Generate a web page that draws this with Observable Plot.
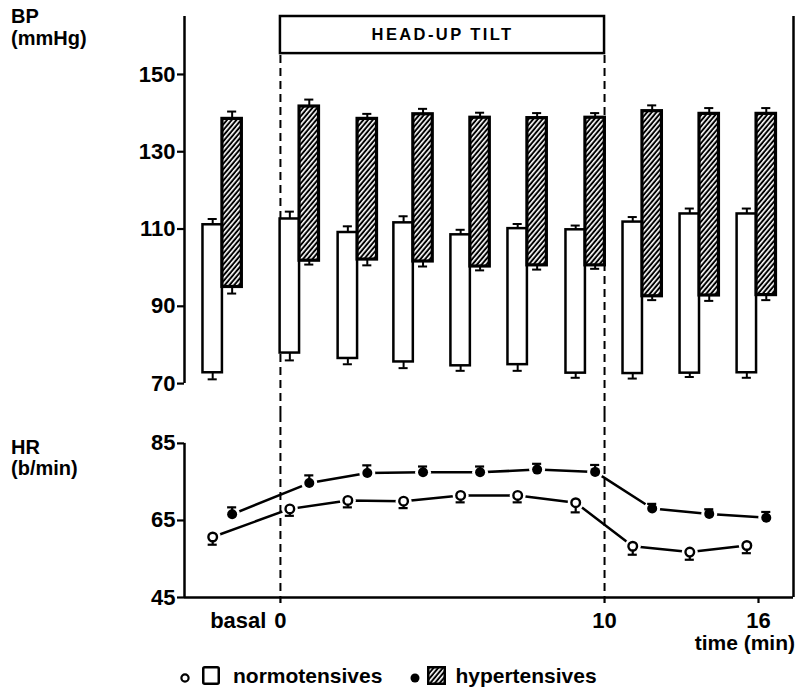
<!DOCTYPE html>
<html>
<head>
<meta charset="utf-8">
<script src="https://cdn.jsdelivr.net/npm/d3@7"></script>
<script src="https://cdn.jsdelivr.net/npm/@observablehq/plot@0.6"></script>
<style>
  html, body { margin: 0; padding: 0; background: #fff; }
  #chart { position: relative; width: 798px; height: 688px; overflow: hidden; background: #fff;
           font-family: "Liberation Sans", Arial, sans-serif; font-weight: bold; color: #000; }
  #chart svg { display: block; }
  #top { position: absolute; left: 0; top: 0; }
  #bottom { position: absolute; left: 0; top: 414px; }
  .lbl { position: absolute; font-size: 20px; white-space: nowrap; }
  #legend { position: absolute; left: 180px; top: 664px; display: flex; align-items: center;
            font-size: 21px; line-height: 23px; white-space: nowrap; }
</style>
</head>
<body>
<div id="chart">
  <div id="top"></div>
  <div id="bottom"></div>
  <div class="lbl" id="bpTitle" style="left:11px; top:5px; line-height:22px;"></div>
  <div class="lbl" id="hrTitle" style="left:11px; top:437px; line-height:21px;"></div>
  <div class="lbl" id="timeTitle" style="right:3px; top:631px; font-size:21px; line-height:23px;"></div>
  <div id="legend"></div>
</div>
<script>
// ---------------- data ----------------
const groupNames  = ["basal", "tilt 1", "tilt 2", "tilt 3", "tilt 4", "tilt 5", "tilt 6", "post 1", "post 2", "post 3"];
const groupTimes  = [-1.79, 0.59, 2.38, 4.1, 5.86, 7.62, 9.41, 11.17, 12.93, 14.69]; // drawn time position (min)

// Blood pressure (mmHg): systolic = bar top, diastolic = bar bottom, with SE
const normoSys    = [111.1, 112.6, 109.1, 111.6, 108.5, 110.1, 109.8, 111.8, 113.9, 113.9];
const normoSysSE  = [1.5, 1.9, 1.6, 1.7, 1.3, 1.2, 1.1, 1.3, 1.4, 1.4];
const normoDia    = [72.8, 77.9, 76.5, 75.6, 74.6, 74.9, 72.7, 72.6, 72.7, 72.8];
const normoDiaSE  = [1.7, 1.9, 1.5, 1.6, 1.3, 1.6, 1.2, 1.3, 1.0, 1.3];
const hyperSys    = [138.5, 141.7, 138.5, 139.7, 138.8, 138.7, 138.8, 140.5, 139.8, 139.8];
const hyperSysSE  = [1.9, 1.8, 1.3, 1.4, 1.3, 1.3, 1.2, 1.5, 1.5, 1.5];
const hyperDia    = [95.0, 101.8, 102.1, 101.6, 100.3, 100.6, 100.6, 92.6, 92.8, 92.9];
const hyperDiaSE  = [1.7, 1.0, 1.5, 1.3, 1.0, 1.1, 0.9, 1.0, 1.4, 1.3];

// Heart rate (b/min) with SE
const normoHR     = [60.7, 68.0, 70.2, 70.0, 71.5, 71.5, 69.6, 58.3, 56.8, 58.5];
const normoHRse   = [2.0, 1.8, 1.8, 1.8, 1.8, 1.8, 2.5, 2.2, 2.0, 2.0];
const hyperHR     = [66.6, 74.7, 77.3, 77.5, 77.5, 78.2, 77.6, 68.1, 66.7, 65.7];
const hyperHRse   = [1.8, 2.0, 2.0, 1.5, 1.5, 1.5, 1.8, 1.2, 1.2, 1.5];

// axes / labels
const bpTicks = [70, 90, 110, 130, 150];
const hrTicks = [45, 65, 85];
const timeTicks = [0, 10, 14.75];
const timeTickLabels = ["0", "10", "16"];
const basalLabel = "basal";
const tiltStart = 0, tiltEnd = 10;
const tiltLabel = "HEAD-UP TILT";
const bpTitle = ["BP", "(mmHg)"];
const hrTitle = ["HR", "(b/min)"];
const timeTitle = "time (min)";
const seriesNames = ["normotensives", "hypertensives"];

// ---------------- layout constants ----------------
const FONT = '"Liberation Sans", Arial, sans-serif';
const xDomain = [-2.96, 15.83];
const bpDomain = [62, 165];
const tiltBoxBottom = 155.4;
const hrDomain = [45, 92.5];
const barW = 0.6;      // bar width in minutes
const capHalf = 0.14;  // half-width of error caps

const rows = groupTimes.map((t, i) => ({
  name: groupNames[i], t,
  nSys: normoSys[i], nSysSE: normoSysSE[i], nDia: normoDia[i], nDiaSE: normoDiaSE[i],
  hSys: hyperSys[i], hSysSE: hyperSysSE[i], hDia: hyperDia[i], hDiaSE: hyperDiaSE[i],
  nHR: normoHR[i], nHRse: normoHRse[i], hHR: hyperHR[i], hHRse: hyperHRse[i]
}));

const xN = d => d.t - barW / 2;
const xH = d => d.t + barW / 2;

function errBars(data, xf, from, to, sw = 2) {
  return [
    Plot.ruleX(data, {x: xf, y1: from, y2: to, strokeWidth: sw, stroke: "black"}),
    Plot.ruleY(data, {y: to, x1: d => xf(d) - capHalf, x2: d => xf(d) + capHalf, strokeWidth: sw, stroke: "black"})
  ];
}

function hatchDefs(id) {
  return () => {
    const defs = d3.create("svg:defs");
    const p = defs.append("pattern").attr("id", id).attr("patternUnits", "userSpaceOnUse")
      .attr("width", 3.6).attr("height", 3.6).attr("patternTransform", "rotate(40)");
    p.append("rect").attr("width", 3.6).attr("height", 3.6).attr("fill", "#000");
    p.append("rect").attr("width", 1.6).attr("height", 3.6).attr("fill", "#fff");
    return defs.node();
  };
}

const commonStyle = {fontFamily: FONT, fontWeight: "bold", fontSize: "22px", color: "black", background: "white", overflow: "visible"};

// ---------------- top panel: blood pressure ----------------
const topPlot = Plot.plot({
  width: 798, height: 414,
  marginLeft: 184, marginRight: 5, marginTop: 16, marginBottom: 0,
  x: {domain: xDomain, axis: null},
  y: {domain: bpDomain},
  style: commonStyle,
  marks: [
    hatchDefs("hatchBP"),
    Plot.axisY({ticks: bpTicks, tickSize: 7, tickPadding: 2, strokeWidth: 2.2, fontSize: 22, label: null}),
    Plot.ruleX([xDomain[0]], {y1: bpTicks[0], y2: bpDomain[1], strokeWidth: 2.5}),
    Plot.ruleX([xDomain[1]], {y1: bpDomain[0], y2: bpDomain[1], strokeWidth: 2.5}),
    Plot.ruleX([tiltStart, tiltEnd], {y1: bpDomain[0], y2: tiltBoxBottom, strokeWidth: 2, strokeDasharray: "8,5"}),
    Plot.rect([tiltLabel], {x1: tiltStart, x2: tiltEnd, y1: tiltBoxBottom, y2: bpDomain[1], fill: "white", stroke: "black", strokeWidth: 2.5}),
    Plot.text([tiltLabel], {x: (tiltStart + tiltEnd) / 2, y: (tiltBoxBottom + bpDomain[1]) / 2, text: d => d,
      fontSize: 16.5, fontWeight: "bold"}),
    // error bars
    errBars(rows, xN, "nSys", d => d.nSys + d.nSysSE),
    errBars(rows, xN, "nDia", d => d.nDia - d.nDiaSE),
    errBars(rows, xH, "hSys", d => d.hSys + d.hSysSE),
    errBars(rows, xH, "hDia", d => d.hDia - d.hDiaSE),
    // bars
    Plot.rect(rows, {x1: d => d.t - barW, x2: "t", y1: "nDia", y2: "nSys", fill: "white", stroke: "black", strokeWidth: 2.5}),
    Plot.rect(rows, {x1: "t", x2: d => d.t + barW, y1: "hDia", y2: "hSys", fill: "url(#hatchBP)", stroke: "black", strokeWidth: 3.2})
  ]
});
d3.select(topPlot).selectAll("text")
  .filter(function() { return this.textContent === tiltLabel; })
  .style("letter-spacing", "2.4px");
document.getElementById("top").appendChild(topPlot);

// ---------------- bottom panel: heart rate ----------------
const bottomPlot = Plot.plot({
  width: 798, height: 274,
  marginLeft: 184, marginRight: 5, marginTop: 0, marginBottom: 91,
  x: {domain: xDomain},
  y: {domain: hrDomain},
  style: commonStyle,
  marks: [
    Plot.axisY({ticks: hrTicks, tickSize: 7, tickPadding: 2, strokeWidth: 2.2, fontSize: 22, label: null}),
    Plot.axisX({ticks: timeTicks, tickFormat: d => timeTickLabels[timeTicks.indexOf(d)], tickSize: 6, tickPadding: 9,
      strokeWidth: 2.2, fontSize: 22, label: null}),
    Plot.text([basalLabel], {x: tiltStart, y: hrDomain[0], text: d => d, textAnchor: "end", lineAnchor: "top",
      dx: -14, dy: 15, fontSize: 22, fontWeight: "bold"}),
    Plot.ruleX([xDomain[0]], {y1: hrTicks[0], y2: hrTicks[hrTicks.length - 1], strokeWidth: 2.5}),
    Plot.ruleY([hrDomain[0]], {strokeWidth: 2.5}),
    Plot.ruleX([xDomain[1]], {strokeWidth: 2.5}),
    Plot.ruleX([tiltStart, tiltEnd], {strokeWidth: 2, strokeDasharray: "8,5"}),
    // lines
    Plot.line(rows, {x: xN, y: "nHR", stroke: "black", strokeWidth: 2.5}),
    Plot.line(rows, {x: xH, y: "hHR", stroke: "black", strokeWidth: 2.5}),
    // white halos so lines stop short of the markers
    Plot.dot(rows, {x: xN, y: "nHR", r: 8, fill: "white", stroke: "none"}),
    Plot.dot(rows, {x: xH, y: "hHR", r: 8, fill: "white", stroke: "none"}),
    // error bars
    errBars(rows, xN, "nHR", d => d.nHR - d.nHRse, 2.2),
    errBars(rows, xH, "hHR", d => d.hHR + d.hHRse, 2.2),
    // markers
    Plot.dot(rows, {x: xN, y: "nHR", r: 4.3, fill: "white", stroke: "black", strokeWidth: 2.4}),
    Plot.dot(rows, {x: xH, y: "hHR", r: 5, fill: "black", stroke: "none"})
  ]
});
document.getElementById("bottom").appendChild(bottomPlot);

// ---------------- titles and legend ----------------
document.getElementById("bpTitle").innerHTML = bpTitle.join("<br>");
document.getElementById("hrTitle").innerHTML = hrTitle.join("<br>");
document.getElementById("timeTitle").textContent = timeTitle;

const legend = d3.select("#legend");
legend.append("svg").attr("width", 10).attr("height", 10).style("margin-top", "5px")
  .append("circle").attr("cx", 5).attr("cy", 5).attr("r", 3.6).attr("fill", "white").attr("stroke", "black").attr("stroke-width", 2.2);
legend.append("svg").attr("width", 18).attr("height", 19).style("margin-left", "12px")
  .append("rect").attr("x", 1.25).attr("y", 1.25).attr("width", 15.5).attr("height", 16.5).attr("rx", 1.5)
  .attr("fill", "white").attr("stroke", "black").attr("stroke-width", 2.5);
legend.append("span").text(seriesNames[0]).style("margin-left", "13px");
legend.append("svg").attr("width", 10).attr("height", 10).style("margin-left", "28px").style("margin-top", "5px")
  .append("circle").attr("cx", 5).attr("cy", 5).attr("r", 4.5).attr("fill", "black");
const hs = legend.append("svg").attr("width", 19).attr("height", 19).style("margin-left", "7px");
hs.append(hatchDefs("hatchLegend"));
hs.append("rect").attr("x", 1.25).attr("y", 1.25).attr("width", 16.5).attr("height", 16.5)
  .attr("fill", "url(#hatchLegend)").attr("stroke", "black").attr("stroke-width", 2.5);
legend.append("span").text(seriesNames[1]).style("margin-left", "9px");
</script>
</body>
</html>
